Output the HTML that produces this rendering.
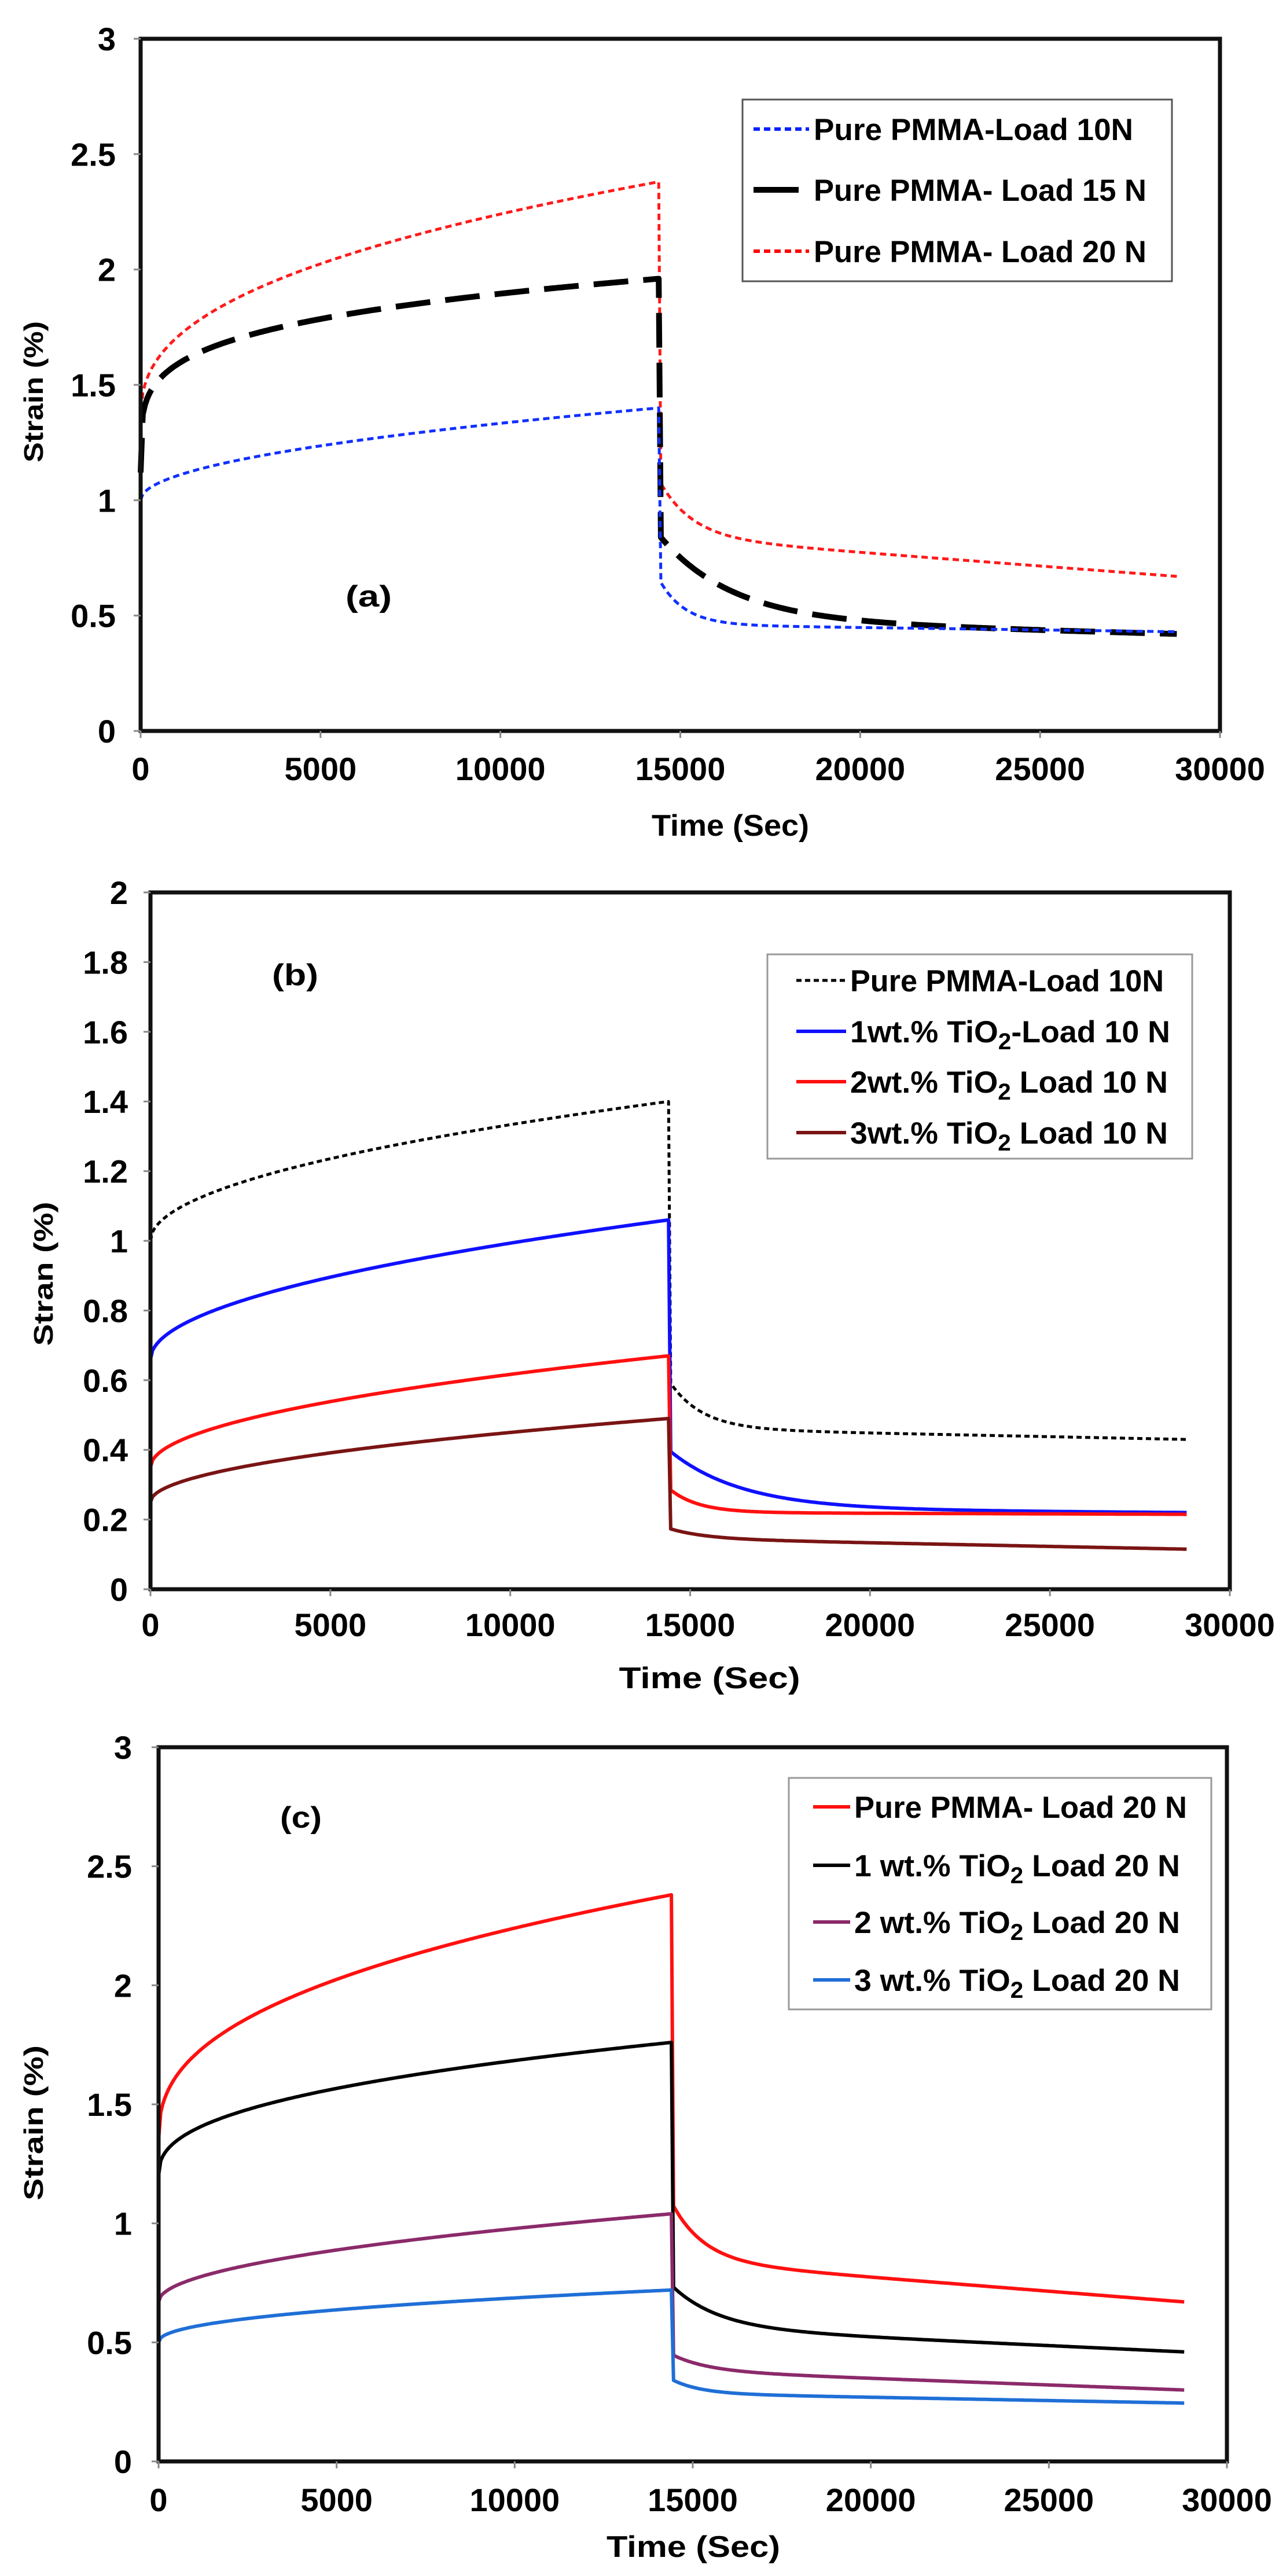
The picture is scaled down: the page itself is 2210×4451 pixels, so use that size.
<!DOCTYPE html>
<html><head><meta charset="utf-8"><style>
html,body{margin:0;padding:0;background:#fff;}
svg{display:block;}
text{font-family:"Liberation Sans",Arial,sans-serif;font-weight:bold;fill:#000;}
</style></head><body>
<svg id="s" xmlns="http://www.w3.org/2000/svg" width="2210" height="4451" viewBox="0 0 2210 4451">
<rect width="2210" height="4451" fill="#fff"/>
<g id="g"></g>
<!-- Panel a texts -->
<text x="1262" y="1444" font-size="52" text-anchor="middle" textLength="272" lengthAdjust="spacingAndGlyphs">Time (Sec)</text>
<text transform="translate(74,677) rotate(-90)" font-size="46" text-anchor="middle" textLength="244" lengthAdjust="spacingAndGlyphs">Strain (%)</text>
<text x="637" y="1048" font-size="52" text-anchor="middle" textLength="80" lengthAdjust="spacingAndGlyphs">(a)</text>
<rect x="1283" y="172" width="742" height="314" fill="#fff" stroke="#555" stroke-width="3"/>
<line x1="1302" y1="223" x2="1398" y2="223" stroke="#0020ff" stroke-width="6" stroke-dasharray="11,7"/>
<text x="1406" y="242" font-size="53" textLength="552" lengthAdjust="spacingAndGlyphs">Pure PMMA-Load 10N</text>
<line x1="1302" y1="328" x2="1380" y2="328" stroke="#000" stroke-width="10"/>
<text x="1406" y="347" font-size="53" textLength="575" lengthAdjust="spacingAndGlyphs">Pure PMMA- Load 15 N</text>
<line x1="1302" y1="434" x2="1398" y2="434" stroke="#ff0000" stroke-width="6" stroke-dasharray="11,7"/>
<text x="1406" y="453" font-size="53" textLength="575" lengthAdjust="spacingAndGlyphs">Pure PMMA- Load 20 N</text>
<!-- Panel b texts -->
<text x="1226" y="2917" font-size="52" text-anchor="middle" textLength="313" lengthAdjust="spacingAndGlyphs">Time  (Sec)</text>
<text transform="translate(91,2201) rotate(-90)" font-size="46" text-anchor="middle" textLength="249" lengthAdjust="spacingAndGlyphs">Stran (%)</text>
<text x="510" y="1702" font-size="52" text-anchor="middle" textLength="80" lengthAdjust="spacingAndGlyphs">(b)</text>
<rect x="1326" y="1649" width="734" height="353" fill="#fff" stroke="#999" stroke-width="3"/>
<line x1="1376" y1="1694" x2="1462" y2="1694" stroke="#000" stroke-width="5" stroke-dasharray="9,6"/>
<text x="1469" y="1713" font-size="53" textLength="542" lengthAdjust="spacingAndGlyphs">Pure PMMA-Load 10N</text>
<line x1="1376" y1="1782" x2="1462" y2="1782" stroke="#1010ff" stroke-width="6"/>
<text x="1469" y="1801" font-size="53" textLength="553" lengthAdjust="spacingAndGlyphs">1wt.% TiO<tspan font-size="40" dy="12">2</tspan><tspan dy="-12">-Load 10 N</tspan></text>
<line x1="1376" y1="1869" x2="1462" y2="1869" stroke="#ff1010" stroke-width="6"/>
<text x="1469" y="1888" font-size="53" textLength="549" lengthAdjust="spacingAndGlyphs">2wt.% TiO<tspan font-size="40" dy="12">2</tspan><tspan dy="-12"> Load 10 N</tspan></text>
<line x1="1376" y1="1957" x2="1462" y2="1957" stroke="#7a1414" stroke-width="6"/>
<text x="1469" y="1976" font-size="53" textLength="549" lengthAdjust="spacingAndGlyphs">3wt.% TiO<tspan font-size="40" dy="12">2</tspan><tspan dy="-12"> Load 10 N</tspan></text>
<!-- Panel c texts -->
<text x="1198" y="4418" font-size="52" text-anchor="middle" textLength="300" lengthAdjust="spacingAndGlyphs">Time (Sec)</text>
<text transform="translate(74,3668) rotate(-90)" font-size="46" text-anchor="middle" textLength="268" lengthAdjust="spacingAndGlyphs">Strain (%)</text>
<text x="520" y="3158" font-size="52" text-anchor="middle" textLength="72" lengthAdjust="spacingAndGlyphs">(c)</text>
<rect x="1363" y="3072" width="730" height="400" fill="#fff" stroke="#999" stroke-width="3"/>
<line x1="1405" y1="3122" x2="1469" y2="3122" stroke="#ff1010" stroke-width="6"/>
<text x="1476" y="3141" font-size="53" textLength="575" lengthAdjust="spacingAndGlyphs">Pure PMMA- Load 20 N</text>
<line x1="1405" y1="3223" x2="1469" y2="3223" stroke="#000" stroke-width="6"/>
<text x="1476" y="3242" font-size="53" textLength="563" lengthAdjust="spacingAndGlyphs">1 wt.% TiO<tspan font-size="40" dy="12">2</tspan><tspan dy="-12"> Load 20 N</tspan></text>
<line x1="1405" y1="3321" x2="1469" y2="3321" stroke="#8b2a6a" stroke-width="6"/>
<text x="1476" y="3340" font-size="53" textLength="563" lengthAdjust="spacingAndGlyphs">2 wt.% TiO<tspan font-size="40" dy="12">2</tspan><tspan dy="-12"> Load 20 N</tspan></text>
<line x1="1405" y1="3421" x2="1469" y2="3421" stroke="#1f6fd6" stroke-width="6"/>
<text x="1476" y="3440" font-size="53" textLength="563" lengthAdjust="spacingAndGlyphs">3 wt.% TiO<tspan font-size="40" dy="12">2</tspan><tspan dy="-12"> Load 20 N</tspan></text>
</svg>
<script>
var NS="http://www.w3.org/2000/svg",g=document.getElementById("g");
function el(t,a){var e=document.createElementNS(NS,t);for(var k in a)e.setAttribute(k,a[k]);g.appendChild(e);return e;}
function panel(P){
 var X=function(t){return P.x0+(P.x1-P.x0)*t/30000;},Y=function(v){return P.y1-(P.y1-P.y0)*v/P.ymax;};
 P.series.forEach(function(s){
  var d="",t,v;
  for(t=0;t<=14400;t+=60){v=s.y0+s.A*Math.pow(t/14400,s.p);d+=(d?"L":"M")+X(t).toFixed(1)+","+Y(v).toFixed(1);}
  for(t=0;t<=14400;t+=60){var dt=t;v=s.yf+s.B*Math.exp(-dt/s.tau)+s.C*(1-dt/14400);d+="L"+X(14400+t+(t==0?60:0)).toFixed(1)+","+Y(v).toFixed(1);}
  el("path",{d:d,fill:"none",stroke:s.c,"stroke-width":s.w,"stroke-dasharray":s.da||"none","stroke-linejoin":"round"});
 });
 el("rect",{x:P.x0,y:P.y0,width:P.x1-P.x0,height:P.y1-P.y0,fill:"none",stroke:"#111","stroke-width":7});
 for(var i=0;i<=P.ymax+1e-9;i+=P.ystep){
  var yy=Y(i);el("line",{x1:P.x0-12,y1:yy,x2:P.x0,y2:yy,stroke:"#888","stroke-width":3});
  var tx=el("text",{x:P.lx,y:yy+20,"font-size":56,"text-anchor":"end"});tx.textContent=P.fmt(i);
 }
 for(var t=0;t<=30000;t+=5000){
  var xx=X(t);el("line",{x1:xx,y1:P.y1,x2:xx,y2:P.y1+12,stroke:"#888","stroke-width":3});
  var tx2=el("text",{x:xx,y:P.xly+20,"font-size":56,"text-anchor":"middle"});tx2.textContent=t;
 }
}
var f1=function(v){return (Math.round(v*10)/10).toString();};
panel({x0:243,x1:2108,y0:67,y1:1263,ymax:3,ystep:0.5,lx:200,xly:1328,fmt:f1,series:[
 {c:"#ff1a1a",w:5,da:"11,7",y0:1.35,A:1.03,p:0.4,yf:0.67,B:0.25,C:0.17,tau:900},
 {c:"#000",w:10,da:"60,26",y0:1.12,A:0.84,p:0.22,yf:0.42,B:0.37,C:0.06,tau:2000},
 {c:"#1030ff",w:5,da:"11,7",y0:1.0,A:0.4,p:0.5,yf:0.43,B:0.2,C:0.03,tau:700}
]});
panel({x0:260,x1:2125,y0:1542,y1:2746,ymax:2,ystep:0.2,lx:221,xly:2807,fmt:f1,series:[
 {c:"#000",w:5,da:"9,6",y0:1.0,A:0.4,p:0.5,yf:0.43,B:0.14,C:0.03,tau:900},
 {c:"#1010ff",w:6,y0:0.66,A:0.40,p:0.5,yf:0.22,B:0.17,C:0.01,tau:2000},
 {c:"#ff1010",w:6,y0:0.35,A:0.32,p:0.5,yf:0.215,B:0.07,C:0.005,tau:800},
 {c:"#7a1414",w:6,y0:0.25,A:0.24,p:0.5,yf:0.115,B:0.03,C:0.03,tau:1000}
]});
panel({x0:274,x1:2120,y0:3019,y1:4253,ymax:3,ystep:0.5,lx:228,xly:4319,fmt:f1,series:[
 {c:"#ff1010",w:6,y0:1.35,A:1.03,p:0.4,yf:0.67,B:0.25,C:0.17,tau:900},
 {c:"#000",w:6,y0:1.2,A:0.56,p:0.4,yf:0.46,B:0.18,C:0.1,tau:1300},
 {c:"#8b2a6a",w:6,y0:0.67,A:0.37,p:0.5,yf:0.3,B:0.07,C:0.08,tau:1000},
 {c:"#1f6fd6",w:6,y0:0.5,A:0.22,p:0.45,yf:0.245,B:0.06,C:0.04,tau:800}
]});
var s=document.getElementById("s");Array.prototype.slice.call(s.children).forEach(function(n){if(n.id!=="g"&&n.tagName!=="rect"||(n.tagName==="rect"&&n.getAttribute("width")!="2210"))s.appendChild(n);});
</script>
</body></html>
